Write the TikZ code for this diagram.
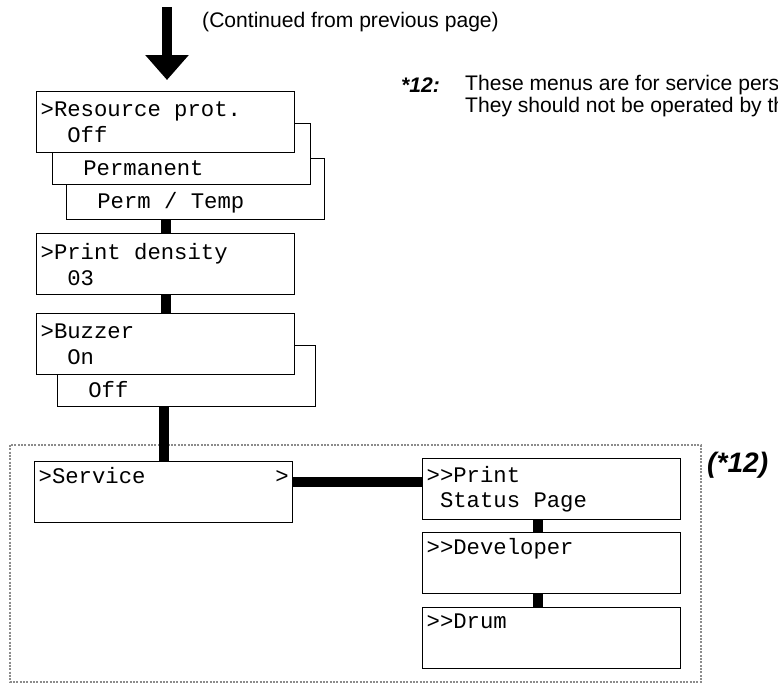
\documentclass[tikz,border=0pt]{standalone}
\usepackage{fontspec}
\setmainfont{Liberation Sans}
\newfontfamily\lcdfont{Liberation Mono}
\usepackage{tikz}
\usetikzlibrary{arrows.meta,positioning,calc}
\newcommand\blank{\phantom{0}}

\begin{document}
\begin{tikzpicture}[
  panel/.style={draw,line width=0.04cm,fill=white,anchor=north west,align=left,
    text width=7.5cm,minimum width=7.74cm,minimum height=1.83cm,inner xsep=0.1cm,
    font=\lcdfont\fontsize{19}{22}\selectfont},
  link/.style={line width=0.3cm},
  bigarr/.style={line width=0.3cm,-{Triangle[width=1.26cm,length=0.75cm]}},
  note/.style={anchor=west,inner sep=0pt,font=\fontsize{18}{21}\selectfont},
  svcframe/.style={draw=black!45,line width=0.06cm,dash pattern=on 0.06cm off 0.04cm}]
\useasboundingbox (0,0) rectangle (23.34,-20.52);
% stacked menu panels, back ones first
\node[panel] (pt) at (1.98,-4.74) {\strut\\\blank\blank Perm\blank/\blank Temp};
\node[panel] (perm) at (1.56,-3.69) {\strut\\\blank\blank Permanent};
\node[panel] (res) at (1.08,-2.73) {>Resource\blank prot.\\\blank\blank Off};
\node[panel] (pden) at (1.08,-6.99) {>Print\blank density\\\blank\blank 03};
\node[panel] (boff) at (1.71,-10.35) {\strut\\\blank\blank Off};
\node[panel] (buz) at (1.08,-9.39) {>Buzzer\\\blank\blank On};
\draw[svcframe] (0.3,-13.35) rectangle (21.03,-20.46);
\node[panel] (svc) at (1.02,-13.83) {>Service\hfill>\hspace*{0.45cm}\\\strut};
\node[panel] (print) at (12.66,-13.74) {>>Print\\\blank Status\blank Page};
\node[panel] (dev) at (12.66,-15.96) {>>Developer\\\strut};
\node[panel] (drum) at (12.66,-18.21) {>>Drum\\\strut};
% notes
\coordinate (cont) at (5.01,-0.21);
\node[note] (prev) at (6.06,-0.66) {(Continued from previous page)};
\node[note] (star) at (12.03,-2.55) {\bfseries\itshape *12:};
\node[note] (msg1) at (13.95,-2.55) {These menus are for service pers};
\node[note] (msg2) at (13.95,-3.2) {They should not be operated by th};
\node[note,font=\fontsize{24}{28}\selectfont] (mark) at (21.21,-13.95) {\bfseries\itshape (*12)};
% connectors
\draw[bigarr,shorten >=0.33cm] (cont) -- (cont |- res.north);
\draw[link] (pden.north) -- (pden.north |- pt.south);
\draw[link] (pden.south) -- (buz.north);
\draw[link] (svc.north) -- (svc.north |- boff.south);
\draw[link] ([yshift=0.32cm]svc.east) -- ([yshift=0.32cm]svc.east -| print.west);
\draw[link] ([xshift=-0.42cm]print.south) -- ([xshift=-0.42cm]dev.north);
\draw[link] ([xshift=-0.42cm]dev.south) -- ([xshift=-0.42cm]drum.north);
\end{tikzpicture}
\end{document}
